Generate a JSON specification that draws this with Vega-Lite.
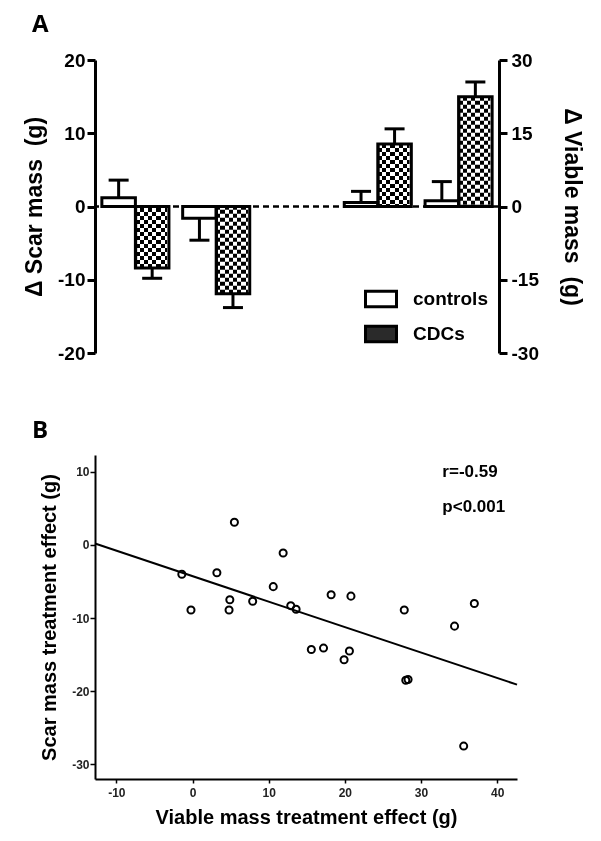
{
  "$schema": "https://vega.github.io/schema/vega-lite/v6.json",
  "background": "white",
  "padding": {"left": 23, "top": 13, "right": 5, "bottom": 5},
  "config": {
    "view": {"stroke": null},
    "font": "Liberation Sans",
    "axis": {"grid": false, "domainColor": "black", "tickColor": "black", "labelColor": "black", "titleColor": "black", "labelExpr": "'' + datum.value"}
  },
  "datasets": {
    "bars": [
      {"group": "g1", "series": "controls", "value": 1.2, "err": 3.6, "panel": "scar"},
      {"group": "g1", "series": "CDCs", "value": -8.4, "err": -9.8, "panel": "scar"},
      {"group": "g2", "series": "controls", "value": -1.6, "err": -4.6, "panel": "scar"},
      {"group": "g2", "series": "CDCs", "value": -11.9, "err": -13.8, "panel": "scar"},
      {"group": "g3", "series": "controls", "value": 0.8, "err": 3.1, "panel": "viable"},
      {"group": "g3", "series": "CDCs", "value": 12.8, "err": 15.9, "panel": "viable"},
      {"group": "g4", "series": "controls", "value": 1.2, "err": 5.1, "panel": "viable"},
      {"group": "g4", "series": "CDCs", "value": 22.5, "err": 25.5, "panel": "viable"}
    ],
    "legendrows": [{"series": "controls"}, {"series": "CDCs"}],
    "scatter": [
      {"x": -1.4, "y": -4.0}, {"x": -0.2, "y": -8.9}, {"x": 5.5, "y": 3.1}, {"x": 3.2, "y": -3.8},
      {"x": 4.9, "y": -7.5}, {"x": 4.8, "y": -8.9}, {"x": 7.9, "y": -7.7}, {"x": 10.6, "y": -5.7},
      {"x": 11.9, "y": -1.1}, {"x": 12.9, "y": -8.3}, {"x": 13.6, "y": -8.8}, {"x": 15.6, "y": -14.3},
      {"x": 17.2, "y": -14.1}, {"x": 18.2, "y": -6.8}, {"x": 19.9, "y": -15.7}, {"x": 20.6, "y": -14.5},
      {"x": 20.8, "y": -7.0}, {"x": 27.8, "y": -8.9}, {"x": 28.0, "y": -18.5}, {"x": 28.3, "y": -18.4},
      {"x": 34.4, "y": -11.1}, {"x": 37.0, "y": -8.0}, {"x": 35.6, "y": -27.5}
    ],
    "fit": [{"x": -12.8, "y": 0.2}, {"x": 42.6, "y": -19.1}],
    "notes": [{"x": 32.8, "y": 10.0, "label": "r=-0.59"}, {"x": 32.8, "y": 5.2, "label": "p<0.001"}]
  },
  "spacing": 56,
  "resolve": {"legend": {"fill": "independent"}},
  "vconcat": [
    {
      "title": {"text": "A", "anchor": "start", "frame": "group", "fontSize": 24, "font": "Open Sans", "fontWeight": "bold", "dx": -63, "offset": 14, "color": "black"},
      "width": 404,
      "height": 293,
      "layer": [
        {
          "data": {"name": "bars"},
          "transform": [{"filter": "datum.panel === 'scar'"}],
          "layer": [
            {
              "data": {"values": [{}]},
              "mark": {"type": "rule", "strokeDash": [6, 4], "strokeWidth": 2.5, "color": "black"},
              "encoding": {
                "y": {"datum": 0, "type": "quantitative", "scale": {"domain": [-20, 20], "nice": false},
                  "axis": {"title": "Δ Scar mass\u00a0 (g)", "values": [-20, -10, 0, 10, 20], "tickSize": 8, "tickWidth": 3, "domainWidth": 3, "labelFontSize": 19, "labelFontWeight": "bold", "labelPadding": 2, "titleFontSize": 23, "titleFontWeight": "bold", "titlePadding": 11}}
              }
            },
            {
              "mark": {"type": "rule", "strokeWidth": 3, "color": "black"},
              "encoding": {
                "x": {"field": "group", "type": "nominal", "scale": {"domain": ["g1", "g2", "gap", "g3", "g4"], "paddingInner": 0.17, "paddingOuter": 0.085}, "axis": null},
                "xOffset": {"field": "series", "type": "nominal", "scale": {"domain": ["controls", "CDCs"]}},
                "y": {"field": "value", "type": "quantitative"},
                "y2": {"field": "err"}
              }
            },
            {
              "mark": {"type": "tick", "size": 20, "thickness": 3, "color": "black", "opacity": 1},
              "encoding": {
                "x": {"field": "group", "type": "nominal"},
                "xOffset": {"field": "series", "type": "nominal"},
                "y": {"field": "err", "type": "quantitative"}
              }
            },
            {
              "transform": [{"filter": "datum.series === 'CDCs'"}],
              "mark": {"type": "rule", "strokeWidth": 30, "strokeDash": [4, 4], "strokeCap": "butt", "color": "black"},
              "encoding": {
                "x": {"field": "group", "type": "nominal"},
                "xOffset": {"field": "series", "type": "nominal"},
                "y": {"field": "value", "type": "quantitative"},
                "y2": {"datum": 0}
              }
            },
            {
              "transform": [{"filter": "datum.series === 'CDCs'"}],
              "mark": {"type": "bar", "blend": "difference", "strokeWidth": 0,
                "fill": {"gradient": "linear", "x1": 0, "y1": 0, "x2": 1, "y2": 0, "stops": [
                  {"offset": 0, "color": "white"}, {"offset": 0.125, "color": "white"},
                  {"offset": 0.125, "color": "black"}, {"offset": 0.25, "color": "black"},
                  {"offset": 0.25, "color": "white"}, {"offset": 0.375, "color": "white"},
                  {"offset": 0.375, "color": "black"}, {"offset": 0.5, "color": "black"},
                  {"offset": 0.5, "color": "white"}, {"offset": 0.625, "color": "white"},
                  {"offset": 0.625, "color": "black"}, {"offset": 0.75, "color": "black"},
                  {"offset": 0.75, "color": "white"}, {"offset": 0.875, "color": "white"},
                  {"offset": 0.875, "color": "black"}, {"offset": 1, "color": "black"}]}},
              "encoding": {
                "x": {"field": "group", "type": "nominal"},
                "xOffset": {"field": "series", "type": "nominal"},
                "y": {"field": "value", "type": "quantitative"}
              }
            },
            {
              "mark": {"type": "bar", "fillOpacity": 0, "stroke": "black", "strokeWidth": 3, "strokeJoin": "miter"},
              "encoding": {
                "x": {"field": "group", "type": "nominal"},
                "xOffset": {"field": "series", "type": "nominal"},
                "y": {"field": "value", "type": "quantitative"}
              }
            },
            {
              "data": {"name": "legendrows"},
              "mark": {"type": "point", "filled": true, "opacity": 0},
              "encoding": {
                "fill": {"field": "series", "type": "nominal",
                  "scale": {"domain": ["controls", "CDCs"], "range": ["white", "#2a2a2a"]},
                  "legend": {"title": null, "orient": "none", "legendX": 269, "legendY": 222, "symbolType": "M-1,-0.5H1V0.5H-1Z", "symbolSize": 961, "symbolStrokeColor": "black", "symbolStrokeWidth": 3, "symbolOpacity": 1, "labelFontSize": 19, "labelFontWeight": "bold", "labelFont": "Liberation Sans", "labelColor": "black", "rowPadding": 4, "labelOffset": 15}}
              }
            }
          ]
        },
        {
          "data": {"name": "bars"},
          "transform": [{"filter": "datum.panel === 'viable'"}],
          "layer": [
            {
              "mark": {"type": "rule", "strokeWidth": 3, "color": "black"},
              "encoding": {
                "x": {"field": "group", "type": "nominal"},
                "xOffset": {"field": "series", "type": "nominal"},
                "y": {"field": "value", "type": "quantitative", "scale": {"domain": [-30, 30], "nice": false},
                  "axis": {"orient": "right", "title": "Δ Viable mass\u00a0 (g)", "values": [-30, -15, 0, 15, 30], "tickSize": 8, "tickWidth": 3, "domainWidth": 3, "labelFontSize": 19, "labelFontWeight": "bold", "labelPadding": 4, "titleFontSize": 23, "titleFontWeight": "bold", "titlePadding": 21}},
                "y2": {"field": "err"}
              }
            },
            {
              "mark": {"type": "tick", "size": 20, "thickness": 3, "color": "black", "opacity": 1},
              "encoding": {
                "x": {"field": "group", "type": "nominal"},
                "xOffset": {"field": "series", "type": "nominal"},
                "y": {"field": "err", "type": "quantitative"}
              }
            },
            {
              "transform": [{"filter": "datum.series === 'CDCs'"}],
              "mark": {"type": "rule", "strokeWidth": 30, "strokeDash": [4, 4], "strokeCap": "butt", "color": "black"},
              "encoding": {
                "x": {"field": "group", "type": "nominal"},
                "xOffset": {"field": "series", "type": "nominal"},
                "y": {"field": "value", "type": "quantitative"},
                "y2": {"datum": 0}
              }
            },
            {
              "transform": [{"filter": "datum.series === 'CDCs'"}],
              "mark": {"type": "bar", "blend": "difference", "strokeWidth": 0,
                "fill": {"gradient": "linear", "x1": 0, "y1": 0, "x2": 1, "y2": 0, "stops": [
                  {"offset": 0, "color": "white"}, {"offset": 0.125, "color": "white"},
                  {"offset": 0.125, "color": "black"}, {"offset": 0.25, "color": "black"},
                  {"offset": 0.25, "color": "white"}, {"offset": 0.375, "color": "white"},
                  {"offset": 0.375, "color": "black"}, {"offset": 0.5, "color": "black"},
                  {"offset": 0.5, "color": "white"}, {"offset": 0.625, "color": "white"},
                  {"offset": 0.625, "color": "black"}, {"offset": 0.75, "color": "black"},
                  {"offset": 0.75, "color": "white"}, {"offset": 0.875, "color": "white"},
                  {"offset": 0.875, "color": "black"}, {"offset": 1, "color": "black"}]}},
              "encoding": {
                "x": {"field": "group", "type": "nominal"},
                "xOffset": {"field": "series", "type": "nominal"},
                "y": {"field": "value", "type": "quantitative"}
              }
            },
            {
              "mark": {"type": "bar", "fillOpacity": 0, "stroke": "black", "strokeWidth": 3, "strokeJoin": "miter"},
              "encoding": {
                "x": {"field": "group", "type": "nominal"},
                "xOffset": {"field": "series", "type": "nominal"},
                "y": {"field": "value", "type": "quantitative"}
              }
            }
          ]
        }
      ],
      "resolve": {"scale": {"y": "independent"}}
    },
    {
      "title": {"text": "B", "anchor": "start", "frame": "group", "fontSize": 24, "font": "Open Sans", "fontWeight": "bold", "dx": -63, "offset": 12, "color": "black"},
      "width": 422,
      "height": 324,
      "layer": [
        {
          "data": {"name": "fit"},
          "mark": {"type": "line", "strokeWidth": 2, "color": "black"},
          "encoding": {
            "x": {"field": "x", "type": "quantitative", "scale": {"domain": [-12.8, 42.6], "nice": false, "zero": false},
              "axis": {"title": "Viable mass treatment effect (g)", "values": [-10, 0, 10, 20, 30, 40], "tickSize": 4, "tickWidth": 1.5, "domainWidth": 2, "labelFontSize": 12, "labelFontWeight": "bold", "labelColor": "#222", "labelPadding": 4, "titleFontSize": 20, "titleFontWeight": "bold", "titlePadding": 9}},
            "y": {"field": "y", "type": "quantitative", "scale": {"domain": [-32, 12.3], "nice": false, "zero": false},
              "axis": {"title": "Scar mass treatment effect (g)", "values": [-30, -20, -10, 0, 10], "tickSize": 5, "tickWidth": 1.5, "domainWidth": 2, "labelFontSize": 12, "labelFontWeight": "bold", "labelColor": "#222", "labelPadding": 1, "titleFontSize": 20, "titleFontWeight": "bold", "titlePadding": 12}}
          }
        },
        {
          "data": {"name": "scatter"},
          "mark": {"type": "point", "shape": "circle", "size": 50, "strokeWidth": 2, "color": "black", "filled": false, "opacity": 1},
          "encoding": {
            "x": {"field": "x", "type": "quantitative"},
            "y": {"field": "y", "type": "quantitative"}
          }
        },
        {
          "data": {"name": "notes"},
          "mark": {"type": "text", "align": "left", "baseline": "middle", "fontSize": 17, "fontWeight": "bold", "color": "black"},
          "encoding": {
            "x": {"field": "x", "type": "quantitative"},
            "y": {"field": "y", "type": "quantitative"},
            "text": {"field": "label"}
          }
        }
      ]
    }
  ]
}
